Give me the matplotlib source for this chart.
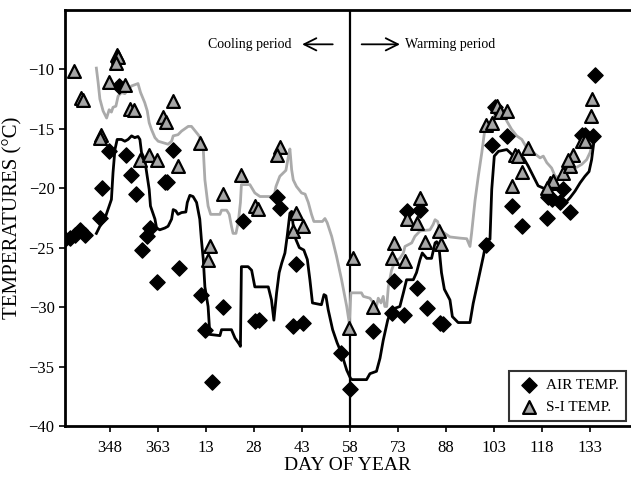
import matplotlib.pyplot as plt

plt.rcParams['font.family'] = ['Liberation Serif', 'DejaVu Serif']

# x = days counted from day 348 (Dec 14); ticks every 15 days
tick_pos = [0, 15, 30, 45, 60, 75, 90, 105, 120, 135, 150]
tick_labels = ['348', '363', '13', '28', '43', '58', '73', '88', '103', '118', '133']

air_pts = [(-14, -24.3), (-12.5, -24.2), (-10.9, -23.9), (-9.4, -23.5), (-7.8, -23.9),
           (-3.1, -22.5), (-2.3, -20.0), (-0.2, -16.9), (2.9, -11.4), (5, -17.25),
           (6.6, -18.9), (8.1, -20.5), (9.9, -25.2), (11.7, -24.0), (12.5, -23.35),
           (14.6, -27.85), (17.2, -19.5), (17.9, -19.5), (19.8, -16.8), (21.7, -26.7),
           (28.4, -29.0), (29.8, -31.9), (31.8, -36.3), (35.4, -29.95), (41.5, -22.8),
           (45.3, -31.2), (46.7, -31.1), (52.3, -20.7), (53.1, -21.7), (58.1, -26.4),
           (57.3, -31.6), (60.4, -31.35), (72.1, -33.9), (75.1, -36.85), (82.3, -31.97),
           (88.9, -27.8), (88, -30.5), (92, -30.65), (92.7, -21.95), (96.9, -21.85),
           (95.8, -28.4), (99, -30.1), (103.1, -31.3), (104.2, -31.4), (117.4, -24.8),
           (119.5, -16.4), (120.3, -13.2), (124, -15.6), (125.5, -21.5), (128.7, -23.15),
           (136.5, -22.5), (137, -20.7), (138, -20.95), (140.6, -21.2), (141.7, -20.1),
           (143.75, -22.0), (147.4, -15.5), (148.4, -15.5), (151, -15.6), (151.6, -10.5)]

si_pts = [(-11.25, -10.15), (-8.9, -12.4), (-8.4, -12.6), (2.1, -8.8), (2.6, -9.0),
          (2.0, -9.5), (-0.2, -11.1), (4.7, -11.3), (6.25, -13.3), (7.5, -13.4),
          (19.6, -12.7), (16.5, -14.0), (17.5, -14.4), (-2.6, -15.5), (-3.1, -15.8),
          (9.4, -17.6), (12.3, -17.2), (14.6, -17.6), (21.3, -18.1), (28.1, -16.2),
          (31.25, -24.9), (30.7, -26.0), (35.4, -20.45), (41.1, -18.9), (45.3, -21.5),
          (46.4, -21.75), (53.1, -16.5), (52.3, -17.2), (58.3, -22.1), (57.3, -23.6),
          (60.4, -23.2), (74.8, -31.8), (76, -25.9), (82.3, -29.95), (88.9, -24.6),
          (88.2, -25.9), (92.2, -26.15), (96.9, -20.8), (92.7, -22.6), (95.8, -22.9),
          (98.6, -24.5), (102.8, -23.6), (103.6, -24.7), (117.5, -14.7), (119.3, -14.5),
          (120.8, -13.1), (121.9, -13.6), (124, -13.5), (126.6, -17.2), (127.6, -17.3),
          (130.7, -16.6), (125.5, -19.8), (128.7, -18.6), (137.5, -19.55), (138.5, -19.4),
          (136.5, -20.0), (141.7, -18.7), (143.75, -18.15), (144.8, -17.2), (143.2, -17.6),
          (147.4, -16.05), (148.4, -16.05), (150.3, -13.9), (150.5, -12.5)]

air_line = [(-4.2, -23.8), (-3.1, -23.2), (-1.6, -22.6), (-0.2, -21.5), (0.5, -20.95),
            (1.0, -18.7), (1.6, -16.75), (2.3, -15.9), (3.65, -15.9), (4.7, -16.05),
            (5.7, -15.9), (6.8, -15.6), (7.8, -15.75), (8.8, -15.65), (9.4, -15.9),
            (9.9, -17.0), (10.9, -17.6), (11.7, -19.0), (12.3, -20.1), (12.7, -21.5),
            (14.1, -22.6), (14.6, -23.35), (15.6, -23.5), (17.2, -23.35), (18.2, -23.2),
            (19.3, -22.6), (19.8, -21.8), (20.6, -21.9), (21.3, -22.2), (22.4, -22.05),
            (23.75, -22.0), (24.2, -21.2), (25, -20.6), (26, -20.7), (27.1, -21.2),
            (28.1, -22.6), (28.6, -24.3), (29.2, -26.0), (29.7, -28.3), (30.7, -29.95),
            (31.25, -32.3), (34.4, -32.4), (34.9, -31.9), (38.0, -31.9), (39.1, -32.6),
            (40.4, -33.1), (40.8, -33.3), (41.1, -26.6), (43.2, -26.6), (44.3, -26.9),
            (45.3, -28.3), (46.4, -28.3), (49.5, -28.3), (50.5, -29.4), (51.25, -31.1),
            (52.1, -28.8), (52.9, -27.1), (53.7, -26.3), (54.7, -25.45), (55.4, -24.05),
            (56.25, -22.1), (56.8, -21.95), (57.3, -23.2), (58.1, -24.3), (59.2, -25.0),
            (60.6, -25.2), (61.7, -26.0), (62.5, -27.7), (63.3, -29.65), (66.1, -29.8),
            (66.9, -28.95), (67.5, -29.05), (68.2, -30.2), (69.6, -31.9), (71, -33.0),
            (72.4, -33.9), (74, -35.3), (75.2, -36.0), (75.7, -36.1), (80.2, -36.1),
            (81.25, -35.6), (83.3, -35.4), (84.4, -34.3), (85.4, -32.8), (85.9, -32.2),
            (86.8, -31.1), (88, -30.2), (90.6, -29.95), (91.7, -28.8), (92.7, -27.7),
            (94.8, -27.7), (95.8, -27.1), (96.9, -26.0), (97.6, -25.45), (99, -25.9),
            (100.5, -25.9), (101.6, -24.6), (102.1, -24.5), (102.8, -24.9), (103.6, -27.1),
            (104.5, -28.5), (106.25, -29.4), (107, -30.8), (108.8, -31.3), (112.5, -31.3),
            (113.5, -29.7), (115.1, -27.7), (116.7, -25.7), (117.7, -24.3), (118.75, -24.3),
            (119.3, -20.1), (120.1, -17.3), (121.4, -16.9), (124, -16.75), (125, -17.0),
            (126.6, -17.45), (127.6, -17.2), (129.2, -17.45), (130.7, -18.15), (132.3, -19.0),
            (133.8, -19.8), (135.9, -20.05), (138, -20.7), (140.6, -21.1), (142.2, -21.25),
            (143.75, -20.8), (145.3, -20.25), (146.9, -19.55), (148.4, -19.0), (149.7, -18.6),
            (150.5, -17.6), (151.3, -15.9)]

si_line = [(-4.2, -9.9), (-3.65, -11.1), (-3.1, -12.5), (-2.1, -13.5), (-1.0, -14.1),
           (-0.2, -13.4), (0.5, -13.6), (1.0, -13.2), (1.9, -13.1), (2.6, -12.25),
           (3.65, -11.95), (4.7, -12.05), (5.7, -11.7), (6.8, -11.4), (7.8, -11.3),
           (8.8, -11.2), (9.6, -11.95), (10.9, -12.8), (11.7, -13.5), (12.3, -14.5),
           (13.0, -15.05), (14.1, -15.75), (15.1, -16.05), (18.2, -16.3), (19.3, -16.05),
           (19.8, -15.6), (21.3, -15.5), (22.4, -15.2), (24.5, -14.8), (25.5, -14.8),
           (27.6, -15.5), (28.6, -15.9), (29.2, -16.75), (29.7, -19.3), (30.7, -21.5),
           (31.5, -22.2), (34.4, -22.2), (34.9, -21.85), (36.5, -21.85), (37.3, -22.2),
           (38.0, -23.2), (38.5, -23.8), (39.4, -23.8), (40.1, -22.9), (40.8, -21.2),
           (41.1, -19.7), (43.75, -19.7), (45.3, -20.4), (46.9, -20.7), (50, -20.7),
           (51.25, -20.8), (51.9, -19.85), (53.1, -19.0), (55, -18.5), (55.7, -17.45),
           (56.25, -16.7), (56.8, -18.45), (57.3, -19.3), (58.3, -19.85), (59.9, -20.4),
           (61, -20.5), (62, -21.2), (63, -22.2), (63.75, -22.8), (66.4, -22.8),
           (67.2, -22.55), (67.9, -22.9), (69.3, -24.05), (70.8, -25.7), (72.4, -27.7),
           (74, -29.95), (74.8, -31.35), (75.3, -28.8), (78.6, -28.8), (79.2, -29.1),
           (81.25, -29.25), (82.3, -29.65), (83.3, -29.95), (83.85, -29.25), (84.7, -29.65),
           (85.4, -29.1), (85.9, -29.95), (86.5, -29.95), (87, -28.3), (88, -26.9),
           (89.1, -26.15), (90.6, -25.9), (91.7, -25.45), (92.2, -24.9), (94.3, -24.6),
           (95.3, -24.05), (96.9, -23.6), (100, -23.5), (101, -23.05), (101.6, -22.65),
           (102.4, -22.8), (103.1, -23.5), (104.7, -23.8), (106.25, -24.1), (109.4, -24.2),
           (111.5, -24.25), (112.5, -24.9), (113, -23.8), (114.1, -21.0), (115.1, -19.0),
           (116.2, -17.0), (117, -15.35), (117.7, -14.7), (118.75, -14.5), (120.8, -13.65),
           (122.4, -13.5), (124, -14.35), (125.5, -15.05), (127.1, -15.6), (128.7, -15.9),
           (130.2, -16.6), (132.3, -17.0), (134.4, -17.45), (135.4, -17.3), (136.5, -17.85),
           (138, -18.3), (139.1, -19.0), (140.6, -19.1), (142.7, -18.7), (144.8, -18.4),
           (147.4, -18.0), (148.95, -17.6), (150, -17.0), (150.7, -16.3), (151.3, -15.9)]

split_day = 75  # day 58


def unzip(pts):
    return [p[0] for p in pts], [p[1] for p in pts]


fig = plt.figure(figsize=(6.31, 4.8), dpi=100)
ax = fig.add_axes([0.103, 0.1125, 0.897, 0.867])

x, y = unzip(si_line)
ax.plot(x, y, color='#aaaaaa', lw=2, zorder=2)
x, y = unzip(air_line)
ax.plot(x, y, color='black', lw=2, zorder=2)

x, y = unzip(air_pts)
ax.scatter(x, y, marker='D', s=60, color='black', zorder=3, label='AIR TEMP.')
x, y = unzip(si_pts)
ax.scatter(x, y, marker='^', s=85, facecolor='#a6a6a6', edgecolor='black',
           linewidths=1.6, zorder=4, label='S-I TEMP.')

ax.axvline(split_day, color='black', lw=1.6, zorder=1)

ax.text(43.75, -7.9, 'Cooling period', ha='center', va='center', fontsize=10)
ax.annotate('', xy=(59.2, -7.9), xytext=(70.5, -7.9),
            arrowprops=dict(arrowstyle='->', lw=1.3, mutation_scale=22))
ax.annotate('', xy=(91.5, -7.9), xytext=(77.8, -7.9),
            arrowprops=dict(arrowstyle='->', lw=1.3, mutation_scale=22))
ax.text(92.3, -7.9, 'Warming period', ha='left', va='center', fontsize=10)

ax.set_xlim(-14, 162.8)
ax.set_ylim(-40, -5)
ax.set_xticks(tick_pos)
ax.set_xticklabels(tick_labels)
ax.set_yticks([-40, -35, -30, -25, -20, -15, -10])
ax.tick_params(axis='both', labelsize=12, length=4, width=1.2, direction='out')
ax.tick_params(axis='x', pad=6)
for s in ax.spines.values():
    s.set_linewidth(2)
ax.spines['right'].set_visible(False)

ax.set_xlabel('DAY OF YEAR', fontsize=14, labelpad=1)
ax.set_ylabel('TEMPERATURES (°C)', fontsize=15, labelpad=4)

leg = ax.legend(loc='lower right', fontsize=11, frameon=True, fancybox=False,
                edgecolor='black', handletextpad=0.3, borderpad=0.5,
                labelspacing=0.5, handlelength=1.6, borderaxespad=0.3)
leg.get_frame().set_linewidth(1.5)

fig.savefig('out.png', dpi=100)
